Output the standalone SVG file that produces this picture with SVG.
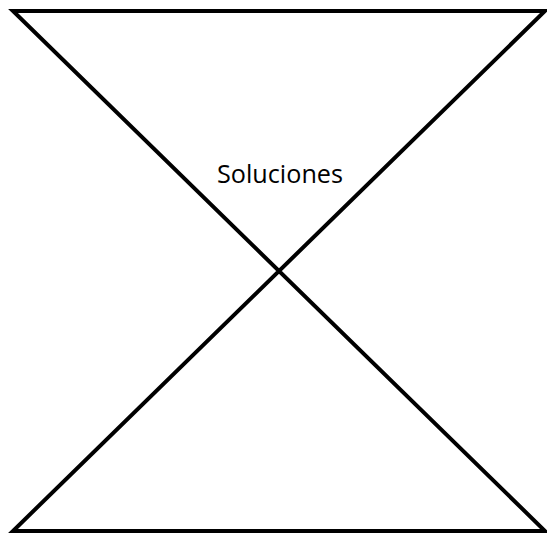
<svg xmlns="http://www.w3.org/2000/svg" width="547" height="536" viewBox="0 0 547 536">
<style>
.edge{fill:none;stroke:#000;stroke-width:4;stroke-linejoin:miter}
.lbl{font-family:"Open Sans","Liberation Sans",sans-serif;font-size:26px;fill:#000}
</style>
<rect width="547" height="536" fill="#fff"/>
<g id="connectors">
<path class="edge" d="M13,11 H545 L13,531 H545 Z"/>
</g>
<g id="soluciones">
<text class="lbl" x="217" y="183" textLength="126" lengthAdjust="spacingAndGlyphs">Soluciones</text>
</g>
</svg>
